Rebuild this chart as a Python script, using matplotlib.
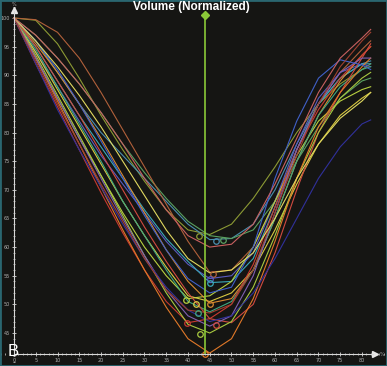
import matplotlib.pyplot as plt
from matplotlib.patches import Rectangle
from matplotlib.ticker import MultipleLocator

# sample positions (% of cycle) shared by all curves
x = [0, 5, 10, 15, 20, 25, 30, 35, 40, 45, 50, 55, 60, 65, 70, 75, 80, 82]

curve_a = [100, 99.6, 95.5, 89.5, 83, 77, 71.5, 66.5, 63, 62.2, 64, 68.5, 74, 80, 85, 88.5, 91, 92]
curve_b = [100, 96, 90.5, 85, 80, 76, 72, 68, 64, 61.3, 61.5, 64, 70, 78, 85, 89.5, 92, 92.5]
curve_c = [100, 97, 93, 88.5, 83.5, 78, 73, 68.5, 64.5, 62, 61.5, 63, 68, 75, 81, 86, 89, 89.5]
curve_d = [100, 99.7, 97.5, 93, 87, 80.5, 74, 67.5, 61, 55.6, 56, 60, 68, 77, 85, 90.5, 94.5, 96]
curve_e = [100, 94, 88, 82, 76, 71, 66, 61, 57, 54.5, 55, 59, 68, 78, 86, 90.5, 92, 91.5]
curve_f = [100, 95, 89, 83, 77.5, 72, 66.5, 61.5, 57.5, 53.8, 54, 58, 67, 77, 85, 89.5, 92, 92]
curve_g = [100, 93, 86, 79, 72.5, 66, 60, 55, 51, 51.5, 54, 60, 68, 76, 82, 85.5, 87.5, 88]
curve_h = [100, 94, 87.5, 81, 74.5, 68, 62, 56.5, 51.5, 50.5, 52, 56, 63, 71, 78, 83, 86, 87]
curve_i = [100, 95.5, 90.5, 85, 79, 72.5, 66, 59.5, 54, 50.2, 51, 56, 65, 75, 83, 89, 93.5, 95]
curve_j = [100, 94.5, 88, 81.5, 75, 68, 62, 56, 50.5, 48.7, 50.5, 56, 65, 75, 83, 88, 91, 91.5]
curve_k = [100, 92, 84.5, 77, 69.5, 62.5, 56, 50.5, 46.8, 47.5, 50, 57, 67, 77, 84, 89.5, 93.5, 95]
curve_l = [100, 95, 89, 83, 76.5, 70, 63.5, 57.5, 52, 47.5, 46.8, 50, 59, 70, 80, 87, 93, 95.5]
curve_m = [100, 93.5, 86.5, 79.5, 72.5, 65.5, 58.5, 52, 46.5, 45, 47, 53, 62, 72, 80, 86, 89.5, 90.5]
curve_n = [100, 93, 85.5, 78, 70.5, 63, 56, 49.5, 44, 41.5, 44, 51, 61, 72, 81, 87, 91.5, 93]
curve_o = [100, 93, 86, 79, 72, 65, 58.5, 52.5, 48, 46.2, 48, 55, 66, 77, 85, 90.5, 93, 93]
curve_p = [100, 92, 84, 77, 70.5, 64, 58, 53, 49, 47, 48, 52, 58, 65, 72, 77.5, 81.5, 82.2]
curve_q = [100, 96, 91, 85, 78.5, 72, 65.5, 59.5, 54.5, 52, 53, 60, 72, 82, 89.5, 92.7, 91.8, 91]
curve_r = [100, 92.5, 85, 78, 71, 64.5, 58, 52.5, 49, 48.5, 50, 56, 66, 76, 85, 91.5, 96, 97.5]
curve_s = [100, 96, 91.5, 86.5, 81, 75, 69, 63, 58, 55.5, 56, 59, 65, 72, 78, 82.5, 85.5, 87]
curve_t = [100, 97, 93, 88.5, 83.5, 78, 72, 66.5, 62, 60, 60.5, 64, 71, 79, 87, 93, 96.5, 98]

curves = [curve_a, curve_b, curve_c, curve_d, curve_e, curve_f, curve_g, curve_h,
          curve_i, curve_j, curve_k, curve_l, curve_m, curve_n, curve_o, curve_p,
          curve_q, curve_r, curve_s, curve_t]
colors = ['#8c9a34', '#4a8fb0', '#5aa060', '#b0603a', '#5a5ac0', '#3aa8b8',
          '#b8d040', '#d8c840', '#d88a30', '#40a880', '#c83a30', '#d04a40',
          '#a8c840', '#e07828', '#8060b0', '#30309a', '#4060c8', '#a04030',
          '#e0d860', '#c86060']

# minimum markers (first 14 curves)
min_x = [42.5, 46.5, 48, 45.8, 45, 45, 39.5, 41.8, 45, 42.3, 39.8, 46.5, 42.8, 44]
min_y = [61.9, 61.1, 61.2, 55.3, 54.4, 53.7, 50.8, 50.1, 50.1, 48.5, 46.7, 46.4, 44.8, 41.3]

cursor_x = 44
x_ticks = list(range(0, 85, 5))
y_ticks = list(range(45, 105, 5))

bg = '#151513'
fig = plt.figure(figsize=(3.87, 3.66), dpi=100, facecolor=bg)
ax = fig.add_axes([0, 0, 1, 1], facecolor=bg)
ax.set_xlim(-3.22, 85.75)
ax.set_ylim(39.24, 103.14)

for ys, c in zip(curves, colors):
    ax.plot(x, ys, color=c, lw=0.8, solid_joinstyle='round')

for mx, my, c in zip(min_x, min_y, colors):
    ax.plot(mx, my, 'o', ms=4, mfc='none', mec=c, mew=0.9)

# cursor line
ax.plot([cursor_x, cursor_x], [41.3, 100.3], color='#8ac838', lw=1.2)
ax.plot(cursor_x, 100.5, marker='D', ms=4, color='#8ac838')

# axes drawn as spines through the origin
for s in ['top', 'right']:
    ax.spines[s].set_visible(False)
ax.spines['left'].set_position(('data', 0))
ax.spines['bottom'].set_position(('data', 41.3))
ax.spines['left'].set_bounds(41.3, 101.2)
ax.spines['bottom'].set_bounds(0, 82.6)
for s in ['left', 'bottom']:
    ax.spines[s].set_color('#d8d8d8')
    ax.spines[s].set_linewidth(0.8)
ax.plot(0, 101.4, marker='^', ms=4, color='#e8e8e8', clip_on=False)
ax.plot(83, 41.3, marker='>', ms=4, color='#e8e8e8', clip_on=False)

ax.set_xticks(x_ticks)
ax.set_yticks(y_ticks)
ax.xaxis.set_minor_locator(MultipleLocator(1))
ax.yaxis.set_minor_locator(MultipleLocator(1))
ax.tick_params(which='major', length=2.5, width=0.6, color='#d8d8d8',
               labelsize=3.5, labelcolor='#b0b0b0', pad=1.5, direction='inout')
ax.tick_params(which='minor', length=1.2, width=0.5, color='#d8d8d8', direction='inout')

ax.text(0, 102.3, '%', color='#b0b0b0', fontsize=3.5, ha='center', va='center')
ax.text(84.6, 41.3, '%', color='#b0b0b0', fontsize=3.5, ha='center', va='center')

fig.text(191 / 387, 1 - 7 / 366, 'Volume (Normalized)', color='white',
         fontsize=8.5, fontweight='bold', family='Liberation Sans',
         ha='center', va='center')
fig.text(13 / 387, 1 - 351 / 366, 'B', color='white', fontsize=12,
         family='Liberation Sans', ha='center', va='center')

fig.patches.append(Rectangle((0, 0), 1, 1, transform=fig.transFigure,
                             fill=False, edgecolor='#2a6670', lw=2))

fig.savefig('out.png', dpi=100, facecolor=bg)
